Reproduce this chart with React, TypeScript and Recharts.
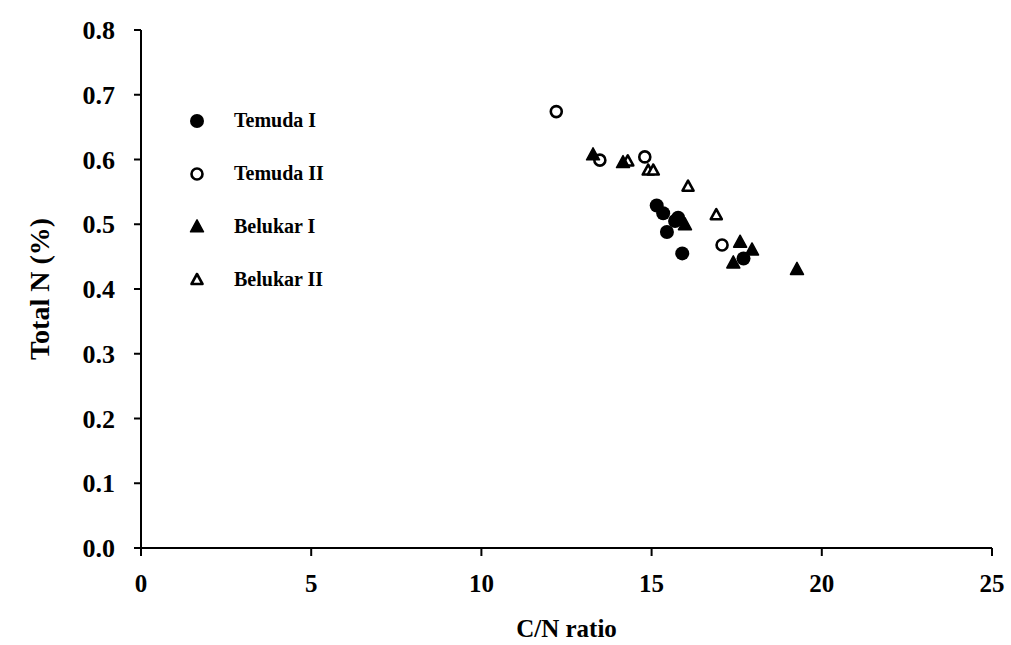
import React from "react";
import { ScatterChart, Scatter, XAxis, YAxis, ZAxis } from "recharts";

const temudaI = [
  { x: 15.15, y: 0.529 }, { x: 15.34, y: 0.517 }, { x: 15.69, y: 0.505 }, { x: 15.78, y: 0.51 },
  { x: 15.45, y: 0.488 }, { x: 15.9, y: 0.455 }, { x: 17.7, y: 0.447 },
];
const temudaII = [
  { x: 12.2, y: 0.674 }, { x: 13.48, y: 0.599 }, { x: 14.8, y: 0.604 }, { x: 17.07, y: 0.468 },
];
const belukarI = [
  { x: 13.28, y: 0.607 }, { x: 14.16, y: 0.595 }, { x: 15.98, y: 0.499 }, { x: 17.6, y: 0.472 },
  { x: 17.95, y: 0.46 }, { x: 17.4, y: 0.44 }, { x: 19.27, y: 0.43 },
];
const belukarII = [
  { x: 14.3, y: 0.597 }, { x: 14.9, y: 0.583 }, { x: 15.05, y: 0.583 }, { x: 16.07, y: 0.558 },
  { x: 16.9, y: 0.514 },
];
const xTicks = [0, 5, 10, 15, 20, 25];
const yTicks = [0, 0.1, 0.2, 0.3, 0.4, 0.5, 0.6, 0.7, 0.8];

const FONT = "'Liberation Serif', 'Times New Roman', serif";

type Kind = "circle" | "ocircle" | "tri" | "otri";

const drawMark = (kind: Kind, cx: number, cy: number) => {
  if (kind === "circle") return <circle cx={cx} cy={cy} r={7} fill="#000" />;
  if (kind === "ocircle")
    return <circle cx={cx} cy={cy} r={5.5} fill="#fff" stroke="#000" strokeWidth={2.6} />;
  const h = 12;
  const w = 13;
  const pts = `${cx},${cy - h * 0.6} ${cx - w / 2},${cy + h * 0.4} ${cx + w / 2},${cy + h * 0.4}`;
  if (kind === "tri") return <polygon points={pts} fill="#000" stroke="#000" strokeWidth={1.5} strokeLinejoin="round" />;
  const h2 = 10, w2 = 11;
  const pts2 = `${cx},${cy - h2 * 0.6} ${cx - w2 / 2},${cy + h2 * 0.4} ${cx + w2 / 2},${cy + h2 * 0.4}`;
  return <polygon points={pts2} fill="#fff" stroke="#000" strokeWidth={2.6} strokeLinejoin="round" />;
};

const shapeOf = (kind: Kind) => (props: any) => drawMark(kind, props.cx, props.cy);

const legendItems: { name: string; kind: Kind }[] = [
  { name: "Temuda I", kind: "circle" },
  { name: "Temuda II", kind: "ocircle" },
  { name: "Belukar I", kind: "tri" },
  { name: "Belukar II", kind: "otri" },
];

const LegendBox = () => (
  <div
    style={{
      position: "absolute",
      left: 185,
      top: 94,
      fontFamily: FONT,
      fontWeight: "bold",
      fontSize: 20,
      color: "#000",
    }}
  >
    {legendItems.map((it) => (
      <div key={it.name} style={{ display: "flex", alignItems: "center", height: 53 }}>
        <svg width={24} height={20} style={{ marginRight: 25 }}>
          {drawMark(it.kind, 12, 10)}
        </svg>
        <span>{it.name}</span>
      </div>
    ))}
  </div>
);

export default function App() {
  return (
    <div style={{ position: "relative", width: 1011, height: 645, background: "#fff" }}>
      <style>{`body{margin:0}`}</style>
      <ScatterChart width={1011} height={645} margin={{ top: 30, right: 19, bottom: 0, left: 0 }}>
        <XAxis
          type="number"
          dataKey="x"
          domain={[0, 25]}
          ticks={xTicks}
          height={97}
          tickSize={8}
          tickMargin={18}
          axisLine={{ stroke: "#000", strokeWidth: 2 }}
          tickLine={{ stroke: "#000", strokeWidth: 2 }}
          tick={{ fill: "#000", fontFamily: FONT, fontWeight: "bold", fontSize: 25 }}
          label={{ value: "C/N ratio", position: "insideBottom", offset: 8, fill: "#000", fontFamily: FONT, fontWeight: "bold", fontSize: 25 }}
        />
        <YAxis
          type="number"
          dataKey="y"
          domain={[0, 0.8]}
          ticks={yTicks}
          width={141}
          tickSize={7}
          tickMargin={19}
          tickFormatter={(v: number) => v.toFixed(1)}
          axisLine={{ stroke: "#000", strokeWidth: 2 }}
          tickLine={{ stroke: "#000", strokeWidth: 2 }}
          tick={{ fill: "#000", fontFamily: FONT, fontWeight: "bold", fontSize: 26 }}
          label={{ value: "Total N (%)", angle: -90, position: "center", dx: -31, fill: "#000", fontFamily: FONT, fontWeight: "bold", fontSize: 28 }}
        />
        <ZAxis range={[120, 120]} />
        <Scatter name="Belukar II" data={belukarII} shape={shapeOf("otri")} isAnimationActive={false} />
        <Scatter name="Temuda II" data={temudaII} shape={shapeOf("ocircle")} isAnimationActive={false} />
        <Scatter name="Belukar I" data={belukarI} shape={shapeOf("tri")} isAnimationActive={false} />
        <Scatter name="Temuda I" data={temudaI} shape={shapeOf("circle")} isAnimationActive={false} />
      </ScatterChart>
      <LegendBox />
    </div>
  );
}
